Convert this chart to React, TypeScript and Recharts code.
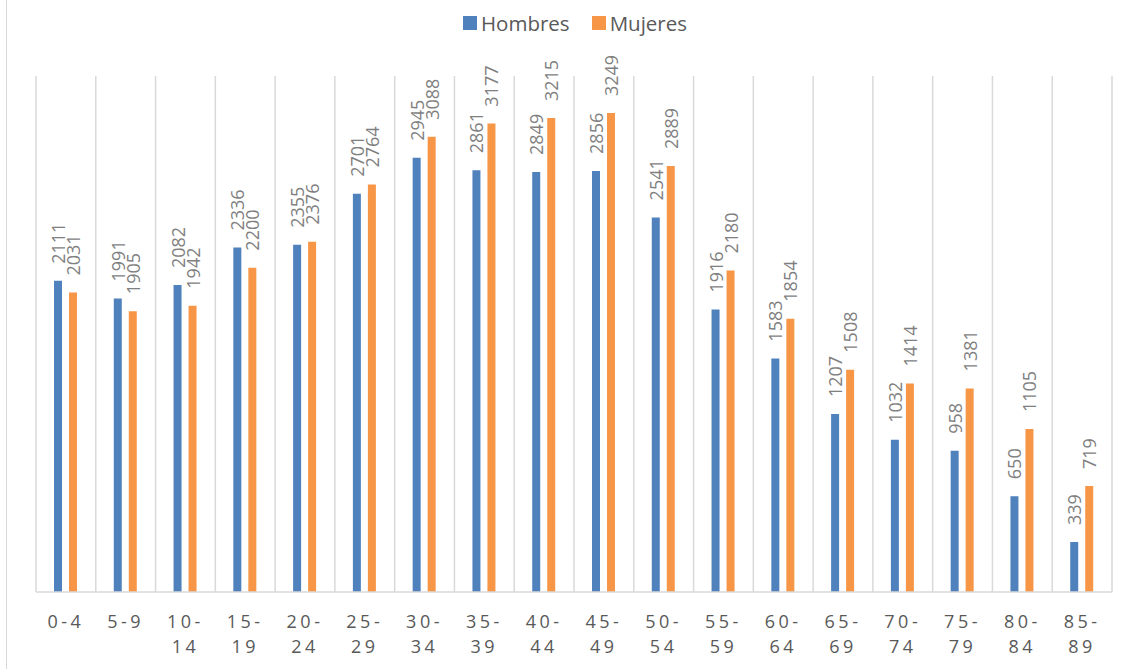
import React from 'react'
import { BarChart, Bar, XAxis, YAxis, CartesianGrid, Legend, LabelList } from 'recharts'

const ageGroups = ['0-4', '5-9', '10-14', '15-19', '20-24', '25-29', '30-34', '35-39', '40-44', '45-49', '50-54', '55-59', '60-64', '65-69', '70-74', '75-79', '80-84', '85-89']
const hombres = [2111, 1991, 2082, 2336, 2355, 2701, 2945, 2861, 2849, 2856, 2541, 1916, 1583, 1207, 1032, 958, 650, 339]
const mujeres = [2031, 1905, 1942, 2200, 2376, 2764, 3088, 3177, 3215, 3249, 2889, 2180, 1854, 1508, 1414, 1381, 1105, 719]

const BLUE = '#4F81BD'
const ORANGE = '#F79646'
const FONT = '"Open Sans", "Noto Sans", sans-serif'

const data = ageGroups.map((g, i) => ({ group: g, Hombres: hombres[i], Mujeres: mujeres[i] }))

// Excel-style split: "10-14" -> "10-" / "14"
function splitLabel(s: string) {
  if (s.length <= 3) return [s]
  const k = s.indexOf('-')
  return [s.slice(0, k + 1), s.slice(k + 1)]
}

function AgeTick(props: any) {
  const { x, y, payload } = props
  const lines = splitLabel(String(payload?.value ?? ''))
  return (
    <g>
      {lines.map((l, i) => (
        <text
          key={i}
          x={x}
          y={y + 36 + i * 25}
          textAnchor="middle"
          fill="#595959"
          fontSize={18}
          fontFamily={FONT}
          letterSpacing={3.5}
        >
          {l}
        </text>
      ))}
    </g>
  )
}

function VLabel(props: any) {
  const { x, y, width, value } = props
  const cx = x + width / 2 + 7
  const ty = y - 17
  return (
    <text
      x={cx}
      y={ty}
      transform={`rotate(-90 ${cx} ${ty})`}
      textAnchor="start"
      fill="#7f7f7f"
      fontSize={18}
      fontFamily={FONT}
    >
      {value}
    </text>
  )
}

function LegendBox() {
  const items = [
    { name: 'Hombres', color: BLUE },
    { name: 'Mujeres', color: ORANGE },
  ]
  return (
    <div style={{ display: 'flex', justifyContent: 'center', paddingLeft: 22, gap: 22, fontFamily: FONT }}>
      {items.map((it) => (
        <span key={it.name} style={{ display: 'inline-flex', alignItems: 'center', gap: 4, color: '#595959', fontSize: 20.5 }}>
          <span style={{ width: 14, height: 14, background: it.color, display: 'inline-block' }} />
          {it.name}
        </span>
      ))}
    </div>
  )
}

export default function App() {
  const n = ageGroups.length
  return (
    <div style={{ position: 'absolute', left: 0, top: 0, width: 1128, height: 669, background: '#fff', overflow: 'hidden' }}>
      <div style={{ position: 'absolute', left: 6, top: 0, width: 1, height: 669, background: '#d9d9d9' }} />
      <BarChart
        width={1128}
        height={669}
        data={data}
        margin={{ top: 76, right: 16, left: 36, bottom: 0 }}
        barSize={8}
        barGap={7}
      >
        <CartesianGrid
          horizontal={false}
          stroke="#d9d9d9"
          strokeWidth={1.5}
          verticalCoordinatesGenerator={({ offset }: any) =>
            Array.from({ length: n + 1 }, (_, i) => offset.left + (i * offset.width) / n)
          }
        />
        <XAxis
          dataKey="group"
          height={77}
          interval={0}
          tickLine={false}
          tickSize={0}
          tickMargin={0}
          axisLine={{ stroke: '#d9d9d9', strokeWidth: 1.5 }}
          tick={<AgeTick />}
        />
        <YAxis hide domain={[0, 3500]} />
        <Legend
          layout="horizontal"
          verticalAlign="middle"
          align="center"
          wrapperStyle={{ top: 9, left: 0, width: 1128 }}
          content={() => <LegendBox />}
        />
        <Bar dataKey="Hombres" fill={BLUE} isAnimationActive={false}>
          <LabelList dataKey="Hombres" content={<VLabel />} />
        </Bar>
        <Bar dataKey="Mujeres" fill={ORANGE} isAnimationActive={false}>
          <LabelList dataKey="Mujeres" content={<VLabel />} />
        </Bar>
      </BarChart>
    </div>
  )
}
